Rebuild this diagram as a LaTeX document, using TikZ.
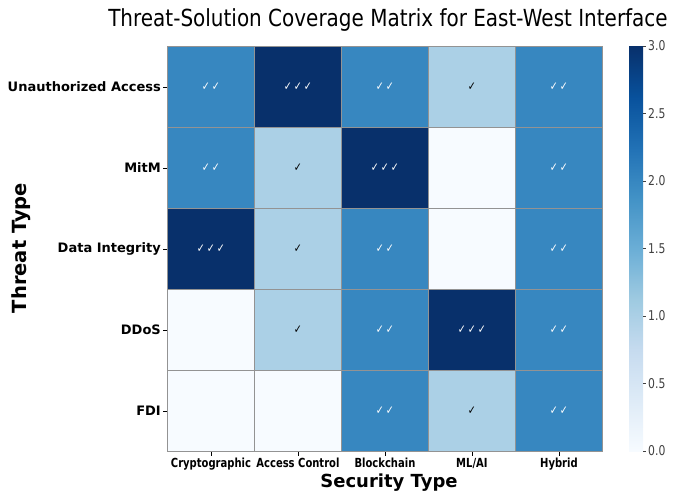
\documentclass[tikz,border=0pt]{standalone}
\usepackage{fontspec}
\setmainfont{DejaVu Sans}[FakeStretch=0.8]
\newfontfamily\widefont{DejaVu Sans}
\newfontfamily\titlefont{DejaVu Sans}[FakeStretch=0.85]
\usetikzlibrary{positioning}

% Blues colour map
\definecolor{b0}{HTML}{F7FBFF}
\definecolor{b1}{HTML}{DEEBF7}
\definecolor{b2}{HTML}{C6DBEF}
\definecolor{b3}{HTML}{9ECAE1}
\definecolor{b4}{HTML}{6BAED6}
\definecolor{b5}{HTML}{4292C6}
\definecolor{b6}{HTML}{2171B5}
\definecolor{b7}{HTML}{08519C}
\definecolor{b8}{HTML}{08306B}
\definecolor{lv0}{HTML}{F7FBFF}
\definecolor{lv1}{HTML}{ABD0E6}
\definecolor{lv2}{HTML}{3787C0}
\definecolor{lv3}{HTML}{08306B}
\pgfdeclareverticalshading{blues}{100bp}{color(0bp)=(b0); color(25bp)=(b0);
  color(31.25bp)=(b1); color(37.5bp)=(b2); color(43.75bp)=(b3); color(50bp)=(b4);
  color(56.25bp)=(b5); color(62.5bp)=(b6); color(68.75bp)=(b7); color(75bp)=(b8);
  color(100bp)=(b8)}

\newcommand{\ticks}[1]{\ifcase#1\or\textcolor{black}{✓}\or\textcolor{white}{✓\,✓}\or\textcolor{white}{✓\,✓\,✓}\fi}

\begin{document}
\begin{tikzpicture}[x=1pt, y=-1pt,
  cell/.style={draw=gray!85, line width=0.9pt, fill=lv#1, minimum width=87pt,
    minimum height=81pt, inner sep=0pt, anchor=north west, font=\fontsize{12}{14}\selectfont},
  ylab/.style={font=\widefont\bfseries\fontsize{13}{15}\selectfont, inner sep=1pt},
  xlab/.style={font=\bfseries\fontsize{12.5}{14}\selectfont, inner sep=1pt, anchor=north},
  cbarlab/.style={font=\fontsize{13.5}{15}\selectfont, text=black!75, inner sep=1pt, anchor=west},
  axtitle/.style={font=\widefont\bfseries\fontsize{18}{20}\selectfont}]
\useasboundingbox (0,0) rectangle (685,494);

% matrix cells
\foreach \name/\vals [count=\r] in {Unauthorized Access/{2,3,2,1,2}, MitM/{2,1,3,0,2},
    Data Integrity/{3,1,2,0,2}, DDoS/{0,1,2,3,2}, FDI/{0,0,2,1,2}} {
  \foreach \v [count=\c] in \vals {
    \node[cell=\v] (cell-\r-\c) at ({167+87*(\c-1)}, {46+81*(\r-1)}) {\ticks{\v}};
  }
  \draw (cell-\r-1.west) -- ++(-4,0) coordinate (yt-\r);
  \node[ylab, left=1pt of yt-\r] (ylab-\r) {\name};
}

% column labels
\foreach \name [count=\c] in {Cryptographic, Access Control, Blockchain, ML/AI, Hybrid} {
  \draw (cell-5-\c.south) -- ++(0,4) coordinate (xt-\c);
  \node[xlab, below=1pt of xt-\c] (xlab-\c) {\name};
}

% colour bar
\node[shading=blues, minimum width=14pt, minimum height=405pt, inner sep=0pt,
  anchor=north west] (cbar) at (629,46) {};
\foreach \t [count=\i from 0] in {0.0,0.5,1.0,1.5,2.0,2.5,3.0} {
  \draw[black!75] (643, {451-67.5*\i}) -- ++(3,0) coordinate (ct-\i);
  \node[cbarlab, right=1pt of ct-\i] (clab-\i) {\t};
}

% titles
\node[font=\titlefont\fontsize{23.5}{26}\selectfont] (title) at (388,20) {Threat-Solution Coverage Matrix for East-West Interface};
\node[axtitle] (xtitle) at (389,483) {Security Type};
\node[axtitle, font=\widefont\bfseries\fontsize{19.5}{21}\selectfont, rotate=90] (ytitle) at (21,248) {Threat Type};
\end{tikzpicture}
\end{document}
